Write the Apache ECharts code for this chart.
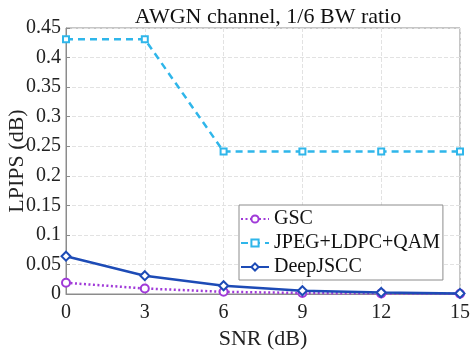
<!DOCTYPE html>
<html>
<head>
<meta charset="utf-8">
<script src="https://cdn.jsdelivr.net/npm/echarts@6/dist/echarts.min.js"></script>
<style>
html, body { margin: 0; padding: 0; background: #fff; }
#graph { width: 471px; height: 352px; }
</style>
</head>
<body>
<div id="graph"></div>
<script>
var snr = [0, 3, 6, 9, 12, 15];
var gsc = [0.019, 0.0093, 0.0037, 0.0017, 0.001, 0.0005];
var jpeg = [0.431, 0.431, 0.241, 0.241, 0.241, 0.241];
var deepjscc = [0.064, 0.031, 0.014, 0.0055, 0.0025, 0.001];
var xTickLabels = ['0', '3', '6', '9', '12', '15'];
var yTickLabels = ['0', '0.05', '0.1', '0.15', '0.2', '0.25', '0.3', '0.35', '0.4', '0.45'];

var font = 'Liberation Serif';

function pairs(ys) {
    var out = [];
    for (var i = 0; i < snr.length; i++) {
        out.push([snr[i], ys[i]]);
    }
    return out;
}

var myChart = echarts.init(document.getElementById('graph'));

var option = {
    animation: false,
    title: {
        text: 'AWGN channel, 1/6 BW ratio',
        left: 263,
        top: 1,
        textAlign: 'center',
        textStyle: { fontFamily: font, fontSize: 22, fontWeight: 'normal', color: '#111' }
    },
    grid: {
        left: 66,
        right: 11,
        top: 28,
        bottom: 58,
        outerBoundsMode: 'none',
        containLabel: false,
        show: true,
        borderColor: '#8c8c8c',
        borderWidth: 1
    },
    legend: {
        orient: 'vertical',
        left: 239,
        top: 205,
        padding: [4, 3, 3, 1],
        itemGap: 4,
        itemWidth: 28,
        itemHeight: 9,
        backgroundColor: '#fff',
        borderColor: '#8c8c8c',
        borderWidth: 1,
        borderRadius: 0,
        textStyle: { fontFamily: font, fontSize: 20, color: '#111' },
        data: ['GSC', 'JPEG+LDPC+QAM', 'DeepJSCC']
    },
    xAxis: {
        type: 'value',
        min: 0,
        max: 15,
        interval: 3,
        name: 'SNR (dB)',
        nameLocation: 'middle',
        nameGap: 34,
        nameTextStyle: { fontFamily: font, fontSize: 22, color: '#222' },
        axisLine: { lineStyle: { color: '#8c8c8c' } },
        axisTick: { inside: true, length: 4, lineStyle: { color: '#8c8c8c' } },
        axisLabel: {
            fontFamily: font, fontSize: 20, color: '#222', margin: 9,
            formatter: function (v) { return xTickLabels[Math.round(v / 3)]; }
        },
        splitLine: { show: true, lineStyle: { type: 'dashed', color: '#e2e2e2' } }
    },
    yAxis: {
        type: 'value',
        min: 0,
        max: 0.45,
        interval: 0.05,
        name: 'LPIPS (dB)',
        nameLocation: 'middle',
        nameGap: 38,
        nameMoveOverlap: false,
        nameTextStyle: { fontFamily: font, fontSize: 22, color: '#222' },
        axisLine: { show: true, lineStyle: { color: '#8c8c8c' } },
        axisTick: { show: true, inside: true, length: 4, lineStyle: { color: '#8c8c8c' } },
        axisLabel: {
            fontFamily: font, fontSize: 20, color: '#222', margin: 5,
            formatter: function (v) { return yTickLabels[Math.round(v / 0.05)]; }
        },
        splitLine: { show: true, lineStyle: { type: 'dashed', color: '#e2e2e2' } }
    },
    series: [
        {
            name: 'JPEG+LDPC+QAM',
            type: 'line',
            data: pairs(jpeg),
            color: '#2fb6ea',
            symbol: 'emptyRect',
            symbolSize: 6,
            lineStyle: { width: 2.5, type: [7, 5] },
            itemStyle: { borderWidth: 2.5 }
        },
        {
            name: 'GSC',
            type: 'line',
            data: pairs(gsc),
            color: '#a03ad8',
            symbol: 'emptyCircle',
            symbolSize: 8,
            lineStyle: { width: 2.5, type: [2, 2.5] },
            itemStyle: { borderWidth: 2.5 }
        },
        {
            name: 'DeepJSCC',
            type: 'line',
            data: pairs(deepjscc),
            color: '#1d4bb6',
            symbol: 'emptyDiamond',
            symbolSize: 9,
            lineStyle: { width: 2.5 },
            itemStyle: { borderWidth: 2 }
        }
    ]
};

myChart.setOption(option);
</script>
</body>
</html>
